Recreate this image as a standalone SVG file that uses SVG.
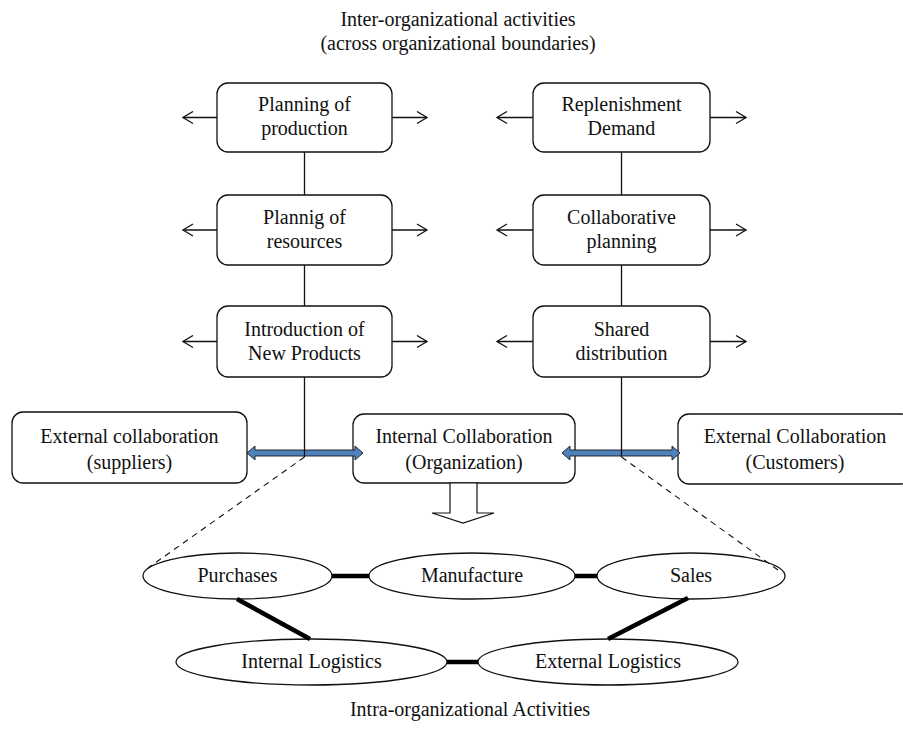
<svg xmlns="http://www.w3.org/2000/svg" width="903" height="733" viewBox="0 0 903 733">
<style>
text{font-family:"Liberation Serif","Times New Roman",serif;font-size:20px;fill:#111;text-anchor:middle}
.box{fill:#fff;stroke:#111;stroke-width:1.3}
.ell{fill:#fff;stroke:#111;stroke-width:1.3}
.thin{stroke:#111;stroke-width:1.3;fill:none}
.thick{stroke:#000;stroke-width:4.5;fill:none}
.dash{stroke:#111;stroke-width:1.1;stroke-dasharray:6 5;fill:none}
.blue{fill:#4F81BD;stroke:#1a1a1a;stroke-width:0.9}
</style>
<defs>
<marker id="open" markerWidth="14" markerHeight="14" refX="11" refY="7" orient="auto" markerUnits="userSpaceOnUse">
<path d="M1,1 L11,7 L1,13" fill="none" stroke="#111" stroke-width="1.3"/>
</marker>
</defs>

<text x="458" y="26">Inter-organizational activities</text>
<text x="458" y="50">(across organizational boundaries)</text>

<g id="planning-production"><rect class="box" x="217" y="83" width="175" height="69" rx="11"/><text x="304.5" y="111">Planning of</text><text x="304.5" y="135">production</text></g>
<g id="planning-resources"><rect class="box" x="217" y="195" width="175" height="70" rx="11"/><text x="304.5" y="224">Plannig of</text><text x="304.5" y="248">resources</text></g>
<g id="new-products"><rect class="box" x="217" y="306" width="175" height="71" rx="11"/><text x="304.5" y="336">Introduction of</text><text x="304.5" y="360">New Products</text></g>
<g id="replenishment"><rect class="box" x="533" y="83" width="177" height="69" rx="11"/><text x="621.5" y="111">Replenishment</text><text x="621.5" y="135">Demand</text></g>
<g id="collab-planning"><rect class="box" x="533" y="195" width="177" height="70" rx="11"/><text x="621.5" y="224">Collaborative</text><text x="621.5" y="248">planning</text></g>
<g id="shared-distribution"><rect class="box" x="533" y="306" width="177" height="71" rx="11"/><text x="621.5" y="336">Shared</text><text x="621.5" y="360">distribution</text></g>
<g id="ext-suppliers"><rect class="box" x="12" y="412" width="235" height="71" rx="11"/><text x="129.5" y="443">External collaboration</text><text x="129.5" y="469">(suppliers)</text></g>
<g id="internal"><rect class="box" x="353" y="414" width="222" height="69" rx="11"/><text x="464" y="443">Internal Collaboration</text><text x="464" y="469">(Organization)</text></g>
<g id="ext-customers"><rect class="box" x="678" y="414" width="234" height="70" rx="11"/><text x="795" y="443">External Collaboration</text><text x="795" y="469">(Customers)</text></g>

<g id="purchases"><ellipse class="ell" cx="237.5" cy="576" rx="94.5" ry="23"/><text x="237.5" y="582">Purchases</text></g>
<g id="manufacture"><ellipse class="ell" cx="472" cy="576" rx="103" ry="23"/><text x="472" y="582">Manufacture</text></g>
<g id="sales"><ellipse class="ell" cx="691" cy="576" rx="94" ry="23"/><text x="691" y="582">Sales</text></g>
<g id="internal-logistics"><ellipse class="ell" cx="311.5" cy="662" rx="135.5" ry="23"/><text x="311.5" y="668">Internal Logistics</text></g>
<g id="external-logistics"><ellipse class="ell" cx="608" cy="662" rx="130" ry="23"/><text x="608" y="668">External Logistics</text></g>

<g id="connectors">
<line class="thin" x1="217" y1="117.5" x2="183" y2="117.5" marker-end="url(#open)"/>
<line class="thin" x1="392" y1="117.5" x2="427" y2="117.5" marker-end="url(#open)"/>
<line class="thin" x1="217" y1="230" x2="183" y2="230" marker-end="url(#open)"/>
<line class="thin" x1="392" y1="230" x2="427" y2="230" marker-end="url(#open)"/>
<line class="thin" x1="217" y1="341.5" x2="183" y2="341.5" marker-end="url(#open)"/>
<line class="thin" x1="392" y1="341.5" x2="427" y2="341.5" marker-end="url(#open)"/>
<line class="thin" x1="533" y1="117.5" x2="497" y2="117.5" marker-end="url(#open)"/>
<line class="thin" x1="710" y1="117.5" x2="746" y2="117.5" marker-end="url(#open)"/>
<line class="thin" x1="533" y1="230" x2="497" y2="230" marker-end="url(#open)"/>
<line class="thin" x1="710" y1="230" x2="746" y2="230" marker-end="url(#open)"/>
<line class="thin" x1="533" y1="341.5" x2="497" y2="341.5" marker-end="url(#open)"/>
<line class="thin" x1="710" y1="341.5" x2="746" y2="341.5" marker-end="url(#open)"/>
<line class="thin" x1="304.5" y1="152" x2="304.5" y2="195"/>
<line class="thin" x1="304.5" y1="265" x2="304.5" y2="306"/>
<line class="thin" x1="621.5" y1="152" x2="621.5" y2="195"/>
<line class="thin" x1="621.5" y1="265" x2="621.5" y2="306"/>
<polygon class="blue" points="247,453 255,446 255,450 355,450 355,446 363,453 355,460 355,456 255,456 255,460"/>
<polygon class="blue" points="562,453 570,446 570,450 672,450 672,446 680,453 672,460 672,456 570,456 570,460"/>
<line class="thin" x1="304.5" y1="377" x2="304.5" y2="457"/>
<line class="thin" x1="621.5" y1="377" x2="621.5" y2="457"/>
<line class="dash" x1="304.5" y1="457" x2="148" y2="568"/>
<line class="dash" x1="621.5" y1="457" x2="778" y2="570"/>
<polygon points="450,483 477,483 477,513 494,513 463,523 432,513 450,513" fill="#fff" stroke="#111" stroke-width="1.2"/>
<line class="thick" x1="332" y1="576" x2="369" y2="576"/>
<line class="thick" x1="575" y1="576" x2="597" y2="576"/>
<line class="thick" x1="237" y1="599" x2="310" y2="639"/>
<line class="thick" x1="688" y1="598" x2="608" y2="639"/>
<line class="thick" x1="447" y1="662" x2="478" y2="662"/>
</g>

<text x="470" y="716">Intra-organizational Activities</text>
</svg>
